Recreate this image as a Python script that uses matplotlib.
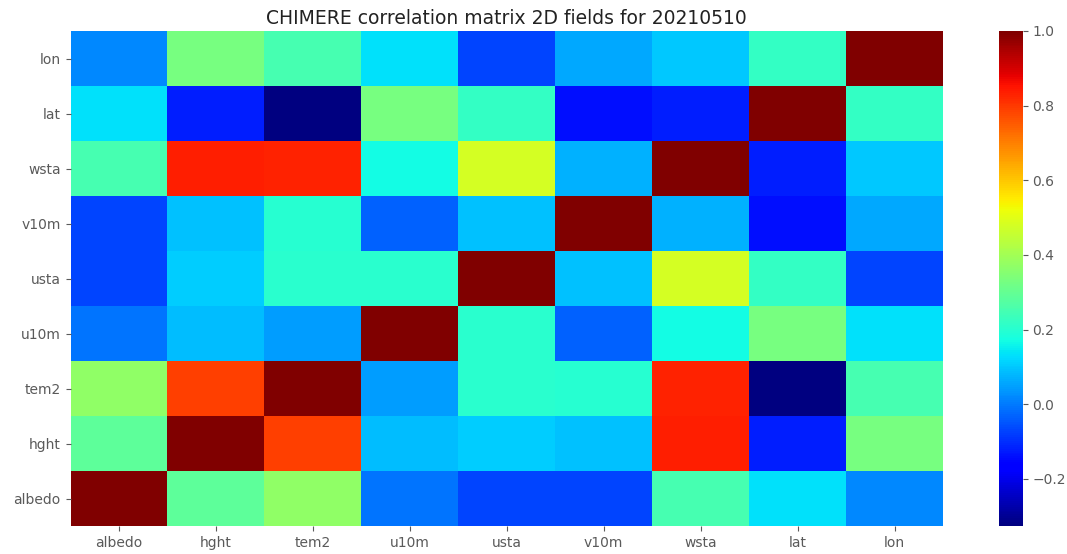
import numpy as np
import matplotlib
matplotlib.use("Agg")
import matplotlib.pyplot as plt

variables = ["albedo", "hght", "tem2", "u10m", "usta", "v10m", "wsta", "lat", "lon"]

# correlation coefficients, one row per field (same order as variables)
albedo = [1.00, 0.29, 0.37, -0.01, -0.07, -0.07, 0.25, 0.13, 0.02]
hght = [0.29, 1.00, 0.79, 0.085, 0.105, 0.09, 0.835, -0.12, 0.33]
tem2 = [0.37, 0.79, 1.00, 0.045, 0.205, 0.20, 0.83, -0.326, 0.25]
u10m = [-0.01, 0.085, 0.045, 1.00, 0.205, -0.035, 0.17, 0.33, 0.13]
usta = [-0.07, 0.105, 0.205, 0.205, 1.00, 0.09, 0.48, 0.22, -0.07]
v10m = [-0.07, 0.09, 0.20, -0.035, 0.09, 1.00, 0.07, -0.14, 0.06]
wsta = [0.25, 0.835, 0.83, 0.17, 0.48, 0.07, 1.00, -0.12, 0.10]
lat = [0.13, -0.12, -0.326, 0.33, 0.22, -0.14, -0.12, 1.00, 0.22]
lon = [0.02, 0.33, 0.25, 0.13, -0.07, 0.06, 0.10, 0.22, 1.00]

corr = np.array([albedo, hght, tem2, u10m, usta, v10m, wsta, lat, lon])

fig = plt.figure(figsize=(10.67, 5.54), dpi=100)
ax = fig.add_axes([70.5 / 1067, 28 / 554, 872.5 / 1067, 495 / 554])
cax = fig.add_axes([999 / 1067, 28 / 554, 23.5 / 1067, 495 / 554])

mesh = ax.pcolormesh(corr, cmap="jet", vmin=corr.min(), vmax=1.0)
ax.set_xlim(0, len(variables))
ax.set_ylim(0, len(variables))

ticks = np.arange(len(variables)) + 0.5
ax.set_xticks(ticks)
ax.set_xticklabels(variables)
ax.set_yticks(ticks)
ax.set_yticklabels(variables)
ax.tick_params(colors="#5a5a5a", labelsize=10, length=3.5)
for spine in ax.spines.values():
    spine.set_visible(False)

ax.set_title("CHIMERE correlation matrix 2D fields for 20210510", fontsize=13.5, color="#222222", pad=5)

cbar = fig.colorbar(mesh, cax=cax)
cbar.set_ticks([-0.2, 0.0, 0.2, 0.4, 0.6, 0.8, 1.0])
cbar.outline.set_visible(False)
cbar.ax.tick_params(colors="#5a5a5a", labelsize=10, length=3.5)

fig.savefig("out.png", dpi=100)
